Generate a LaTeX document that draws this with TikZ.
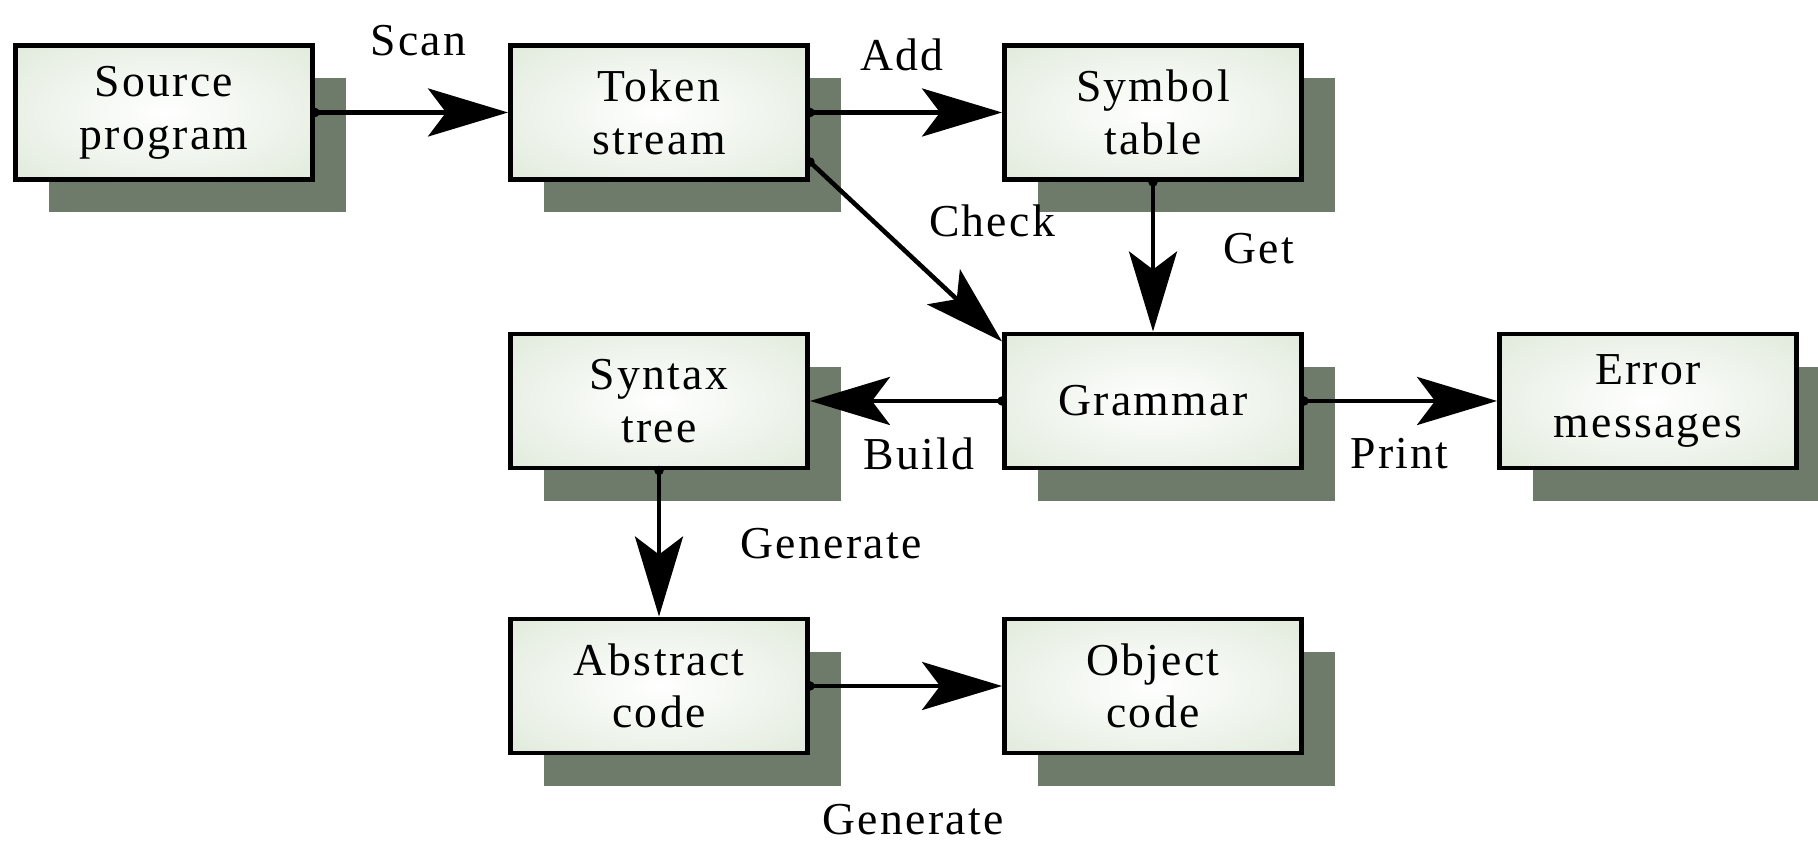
\documentclass[tikz,border=0pt]{standalone}
\usepackage{fontspec}
\setmainfont{Liberation Serif}[LetterSpace=5]
\usetikzlibrary{positioning,shadows,arrows.meta}
\definecolor{boxgreen}{RGB}{213,226,206}
\definecolor{shadowgreen}{RGB}{111,123,106}
\pgfdeclareradialshading{boxshade}{\pgfpoint{0bp}{0bp}}{%
    color(0bp)=(white); color(50bp)=(boxgreen); color(100bp)=(boxgreen)}
\tikzset{
    box/.style={
           rectangle,
           draw=black, line width=1.4pt,
           minimum width=2.97cm,
           minimum height=1.34cm,
           inner sep=2pt,
           align=center,
           shade, shading=boxshade,
           drop shadow={shadow xshift=0.33cm, shadow yshift=-0.33cm,
                        fill=shadowgreen, opacity=1},
           },
    arr/.style={
           line width=1.3pt,
           shorten <=-1.3pt,
           {Circle[length=2.6pt]}-{Stealth[length=8mm, width=4.8mm, inset=1.8mm]},
           },
    lbl/.style={
           inner sep=0pt,
           anchor=center,
           },
}

\begin{document}
\begin{tikzpicture}[font=\fontsize{13pt}{15pt}\selectfont]
    \useasboundingbox (0,0) rectangle (18.18,-8.44);

    % first row: what comes in
    \node[box, anchor=center] (src) at (1.64,-1.125) {Source\\program};

    \node[box,
    right of=src,
    node distance=4.95cm,
    anchor=center] (tok) {Token\\stream};

    \node[box,
    right of=tok,
    node distance=4.94cm,
    anchor=center] (sym) {Symbol\\table};

    % second row: the parser in the middle
    \node[box,
    below of=sym,
    node distance=2.885cm,
    anchor=center] (gram) {Grammar};

    \node[box,
    left of=gram,
    node distance=4.94cm,
    anchor=center] (syn) {Syntax\\tree};

    \node[box,
    right of=gram,
    node distance=4.95cm,
    anchor=center] (err) {Error\\messages};

    % third row: what comes out
    \node[box,
    below of=syn,
    node distance=2.85cm,
    anchor=center] (abs) {Abstract\\code};

    \node[box,
    right of=abs,
    node distance=4.94cm,
    anchor=center] (obj) {Object\\code};

    % connectors with their labels
    \path
        (src) edge[arr]
            node[lbl, xshift=0.07cm, yshift=0.72cm] {Scan}
        (tok)

        (tok) edge[arr]
            node[lbl, xshift=-0.04cm, yshift=0.58cm] {Add}
        (sym)

        ([yshift=0.2cm]tok.south east) edge[arr]
            node[lbl, xshift=0.86cm, yshift=0.31cm] {Check}
        ([yshift=-0.1cm]gram.north west)

        (sym) edge[arr]
            node[lbl, xshift=1.06cm, yshift=0.08cm] {Get}
        (gram)

        (gram) edge[arr]
            node[lbl, xshift=0.13cm, yshift=-0.53cm] {Build}
        (syn)

        (gram) edge[arr]
            node[lbl, xshift=-0.01cm, yshift=-0.53cm] {Print}
        (err)

        (syn) edge[arr]
            node[lbl, xshift=1.72cm] {Generate}
        (abs)

        (abs) edge[arr]
            node[lbl, xshift=0.07cm, yshift=-1.34cm] {Generate}
        (obj);
\end{tikzpicture}
\end{document}
